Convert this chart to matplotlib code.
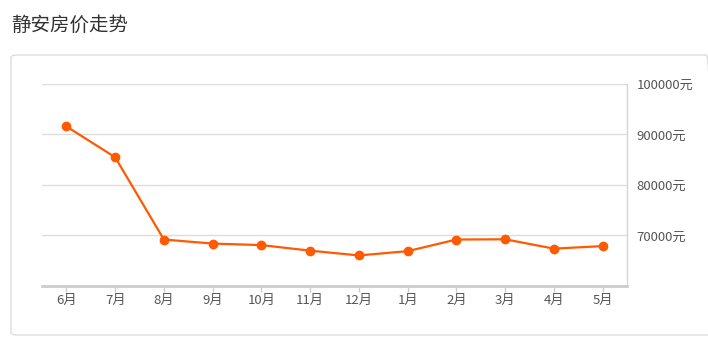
import matplotlib.pyplot as plt
from matplotlib.patches import FancyBboxPatch

plt.rcParams['font.family'] = ['Noto Sans CJK SC', 'DejaVu Sans']

# data
months = ['6月', '7月', '8月', '9月', '10月', '11月', '12月', '1月', '2月', '3月', '4月', '5月']
prices = [91600, 85500, 69200, 68400, 68100, 67000, 66050, 66900, 69200, 69250, 67400, 67900]
y_ticks = [70000, 80000, 90000, 100000]
y_labels = ['70000元', '80000元', '90000元', '100000元']

fig = plt.figure(figsize=(7.08, 3.5), dpi=100)

# title and card border
fig.text(11 / 708, 1 - 25 / 350, '静安房价走势', fontsize=14, color='#333333',
         ha='left', va='center')
card = FancyBboxPatch((11 / 708, 1 - 335 / 350), 0.99, 280 / 350,
                      boxstyle='round,pad=0,rounding_size=0.008',
                      transform=fig.transFigure, facecolor='none',
                      edgecolor='#dddddd', linewidth=1, zorder=-1)
fig.patches.append(card)

ax = fig.add_axes([42 / 708, 1 - 286 / 350, 585 / 708, 202 / 350])
x = list(range(len(months)))
ax.plot(x, prices, color='#ff5a00', linewidth=1.6, marker='o', markersize=6, zorder=3)

ax.set_xlim(-0.5, len(months) - 0.5)
ax.set_ylim(60000, 100000)
ax.set_xticks(x)
ax.set_xticklabels(months)
ax.set_yticks(y_ticks)
ax.set_yticklabels(y_labels)
ax.yaxis.tick_right()

ax.grid(axis='y', color='#dddddd', linewidth=1)
ax.set_axisbelow(True)
for s in ['top', 'left']:
    ax.spines[s].set_visible(False)
ax.spines['right'].set_color('#d6d6d6')
ax.spines['right'].set_linewidth(1)
ax.spines['bottom'].set_color('#cccccc')
ax.spines['bottom'].set_linewidth(2)

ax.tick_params(axis='x', length=4, width=1, color='#cccccc', labelsize=9.5,
               labelcolor='#555555', pad=2)
ax.tick_params(axis='y', length=0, labelsize=9.5, labelcolor='#555555', pad=7)
ax.patch.set_alpha(0)

fig.savefig('out.png', dpi=100)
